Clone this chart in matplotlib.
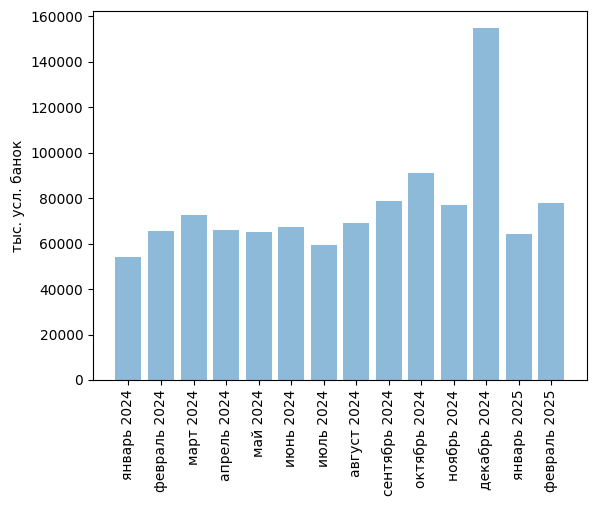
import matplotlib
matplotlib.use('Agg')
import matplotlib.pyplot as plt

months = ['январь 2024', 'февраль 2024', 'март 2024', 'апрель 2024', 'май 2024',
          'июнь 2024', 'июль 2024', 'август 2024', 'сентябрь 2024', 'октябрь 2024',
          'ноябрь 2024', 'декабрь 2024', 'январь 2025', 'февраль 2025']
values = [54000, 65400, 72500, 65900, 65000, 67200, 59300, 69000, 78600, 90900,
          76900, 154600, 64100, 77700]

fig = plt.figure(figsize=(5.98, 5.07), dpi=100)
ax = fig.add_axes((0.1555, 0.2505, 0.826, 0.728))
ax.bar(months, values, color='C0', alpha=0.5)
ax.set_ylabel('тыс. усл. банок')
ax.tick_params(axis='x', rotation=90)
fig.savefig('out.png', dpi=100)
